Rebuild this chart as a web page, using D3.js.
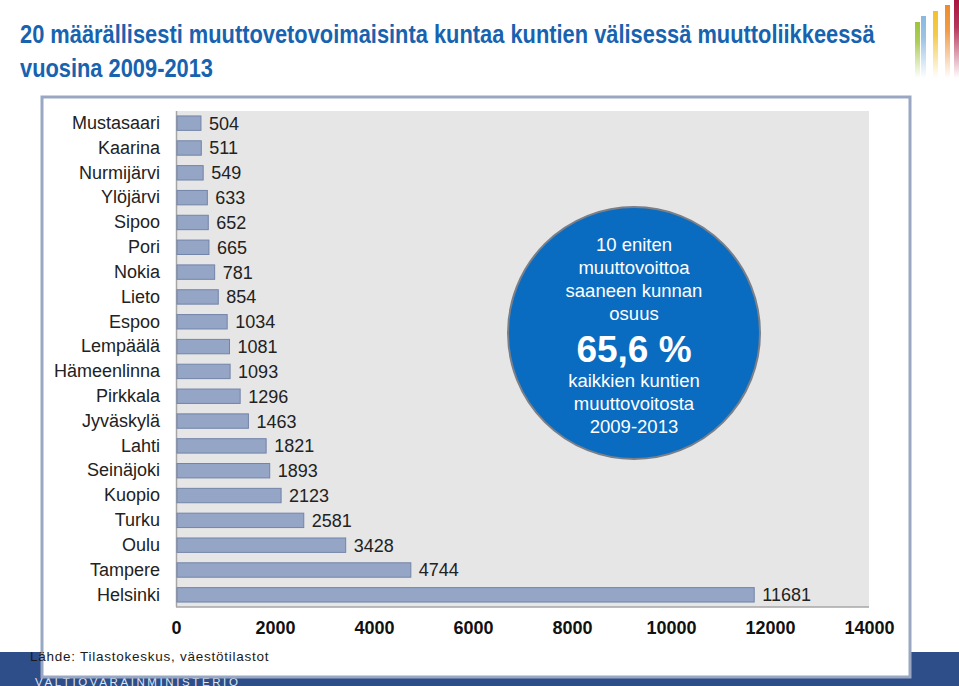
<!DOCTYPE html>
<html><head><meta charset="utf-8">
<script src="https://cdn.jsdelivr.net/npm/d3@7"></script>
<style>body{margin:0;background:#fff;}svg{display:block;}</style>
</head><body>
<svg id="c" width="959" height="686"></svg>
<script>
const titleLines = ["20 määrällisesti muuttovetovoimaisinta kuntaa kuntien välisessä muuttoliikkeessä", "vuosina 2009-2013"];
const categories = ["Mustasaari","Kaarina","Nurmijärvi","Ylöjärvi","Sipoo","Pori","Nokia","Lieto","Espoo","Lempäälä","Hämeenlinna","Pirkkala","Jyväskylä","Lahti","Seinäjoki","Kuopio","Turku","Oulu","Tampere","Helsinki"];
const values = [504,511,549,633,652,665,781,854,1034,1081,1093,1296,1463,1821,1893,2123,2581,3428,4744,11681];
const xTicks = [0,2000,4000,6000,8000,10000,12000,14000];
const circleLinesTop = ["10 eniten","muuttovoittoa","saaneen kunnan","osuus"];
const circleBig = "65,6 %";
const circleLinesBottom = ["kaikkien kuntien","muuttovoitosta","2009-2013"];
const source = "Lähde: Tilastokeskus, väestötilastot";
const org = "VALTIOVARAINMINISTERIÖ";

const svg = d3.select("#c");
const defs = svg.append("defs");
const ff = "Liberation Sans, Arial, Helvetica";

// bottom band
svg.append("rect").attr("x",0).attr("y",652).attr("width",959).attr("height",34).attr("fill","#2d4e88");
svg.append("text").attr("x",35).attr("y",685.5).attr("fill","#dfe6f2")
  .attr("font-family",ff).attr("font-size",11.5).attr("letter-spacing",2.6).text(org);

// logo bars
const logo = [{x:915,y:22,w:5,c:"#9dc53b"},{x:921,y:16,w:5,c:"#8ab8e0"},{x:933,y:11,w:5,c:"#f2c12e"},{x:945,y:5,w:5,c:"#ef8a2a"},{x:954,y:0,w:5,c:"#a9153e"}];
logo.forEach((d,i)=>{
  const g = defs.append("linearGradient").attr("id","lg"+i).attr("x1",0).attr("y1",0).attr("x2",0).attr("y2",1);
  g.append("stop").attr("offset","0%").attr("stop-color",d.c).attr("stop-opacity",1);
  g.append("stop").attr("offset","35%").attr("stop-color",d.c).attr("stop-opacity",0.85);
  g.append("stop").attr("offset","100%").attr("stop-color",d.c).attr("stop-opacity",0);
  svg.append("rect").attr("x",d.x).attr("y",d.y).attr("width",d.w).attr("height",78-d.y).attr("fill","url(#lg"+i+")");
});

// title (horizontally condensed via scale)
const tl = [855,193];
titleLines.forEach((t,i)=>{
  const g = svg.append("g");
  const el = g.append("text").attr("x",0).attr("y",0).attr("fill","#1763b0")
    .attr("font-family",ff).attr("font-weight","bold").attr("font-size",25).text(t);
  const w = el.node().getComputedTextLength();
  g.attr("transform",`translate(20,${43+i*34}) scale(${tl[i]/w},1)`);
});

// frame
svg.append("rect").attr("x",42).attr("y",97).attr("width",868).attr("height",580)
  .attr("fill","#fff").attr("stroke","#9aa7c3").attr("stroke-width",3);

// scales
const x = d3.scaleLinear().domain([0,14000]).range([176,869]);
const y = d3.scaleBand().domain(categories).range([111,607]).paddingInner(0.42).paddingOuter(0.2);

svg.append("rect").attr("x",176).attr("y",111).attr("width",693).attr("height",496).attr("fill","#e6e6e6");
svg.append("line").attr("x1",176.5).attr("x2",176.5).attr("y1",111).attr("y2",607).attr("stroke","#a6a6a6").attr("stroke-width",1.5);
svg.append("line").attr("x1",176).attr("x2",869).attr("y1",607).attr("y2",607).attr("stroke","#a6a6a6").attr("stroke-width",1.5);

// bars
svg.selectAll("rect.bar").data(values).enter().append("rect").attr("class","bar")
  .attr("x",x(0)+1).attr("y",(d,i)=>y(categories[i])).attr("width",d=>x(d)-x(0)-1).attr("height",y.bandwidth())
  .attr("fill","#94a5c6").attr("stroke","#7284a9").attr("stroke-width",1);

// value labels
svg.selectAll("text.val").data(values).enter().append("text").attr("class","val")
  .attr("x",d=>x(d)+8).attr("y",(d,i)=>y(categories[i])+y.bandwidth()/2).attr("dy","0.36em")
  .attr("font-family",ff).attr("font-size",18).attr("fill","#222").text(d=>d);

// category labels
const yAxis = d3.axisLeft(y).tickSize(0).tickPadding(16);
const ya = svg.append("g").attr("transform","translate(176,0)").call(yAxis);
ya.attr("font-family",ff).attr("font-size",18);
ya.select(".domain").remove();
ya.selectAll("text").attr("font-family",ff).attr("font-size",18).attr("fill","#222");

// x axis
const xAxis = d3.axisBottom(x).tickValues(xTicks).tickSize(0).tickPadding(14).tickFormat(d3.format("d"));
const xa = svg.append("g").attr("transform","translate(0,607)").call(xAxis);
xa.attr("font-family",ff).attr("font-size",18);
xa.select(".domain").remove();
xa.selectAll("text").attr("font-family",ff).attr("font-weight","bold").attr("font-size",18).attr("fill","#111");

// circle
const cx=634, cy=333, r=126;
svg.append("circle").attr("cx",cx).attr("cy",cy).attr("r",r).attr("fill","#0a6cc0").attr("stroke","#7a7f88").attr("stroke-width",2);
circleLinesTop.forEach((t,i)=>svg.append("text").attr("x",cx).attr("y",251+i*23).attr("text-anchor","middle")
  .attr("fill","#fff").attr("font-family",ff).attr("font-size",18.5).text(t));
svg.append("text").attr("x",cx).attr("y",362).attr("text-anchor","middle").attr("fill","#fff")
  .attr("font-family",ff).attr("font-weight","bold").attr("font-size",37).text(circleBig);
circleLinesBottom.forEach((t,i)=>svg.append("text").attr("x",cx).attr("y",387+i*23).attr("text-anchor","middle")
  .attr("fill","#fff").attr("font-family",ff).attr("font-size",18.5).text(t));

// source
svg.append("text").attr("x",30).attr("y",661).attr("fill","#1a1a1a").attr("font-family",ff)
  .attr("font-size",13.5).attr("letter-spacing",0.75).text(source);
</script>
</body></html>
